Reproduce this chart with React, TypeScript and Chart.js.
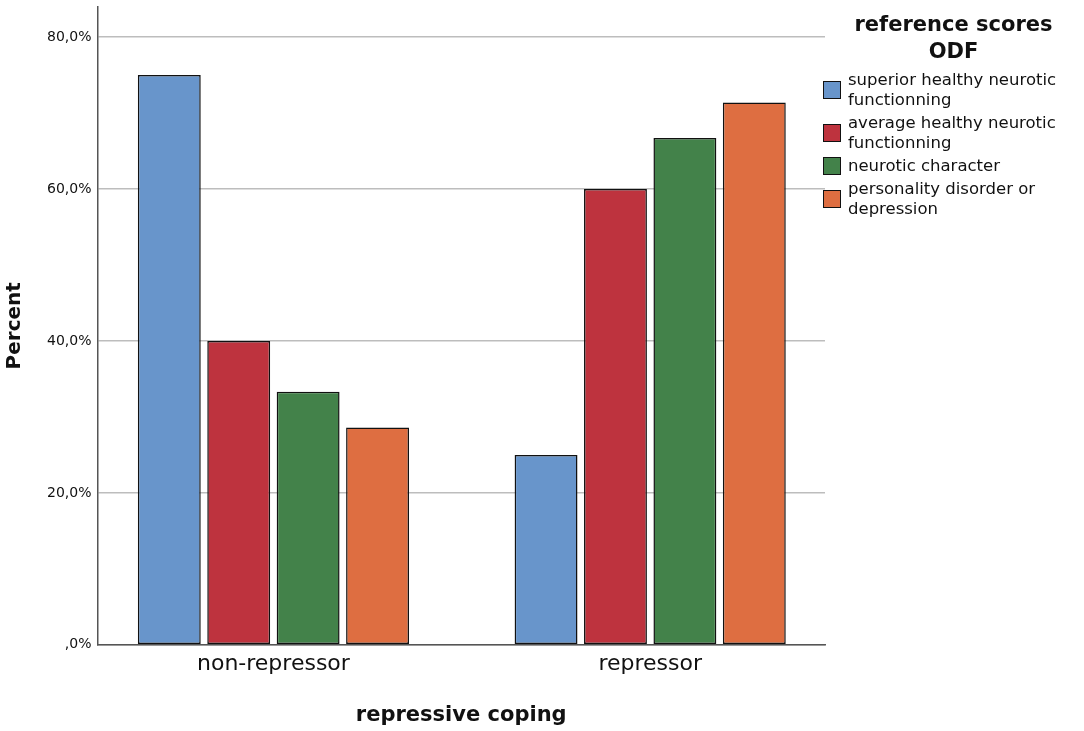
import { useEffect, useRef } from "react";
import { Chart, registerables } from "chart.js";

Chart.register(...registerables);

const categories = ["non-repressor", "repressor"];
const seriesNames = [
  "superior healthy neurotic functionning",
  "average healthy neurotic functionning",
  "neurotic character",
  "personality disorder or depression",
];
const legendLines = [
  ["superior healthy neurotic", "functionning"],
  ["average healthy neurotic", "functionning"],
  ["neurotic character"],
  ["personality disorder or", "depression"],
];
const superiorValues = [75.0, 25.0];
const averageValues = [40.0, 60.0];
const neuroticValues = [33.3, 66.7];
const disorderValues = [28.6, 71.4];
const seriesColors = ["#6895CB", "#BE333E", "#43824A", "#DE6E41"];
const yTicks = [0, 20, 40, 60, 80];

const fmtPct = (v: number) => {
  const s = v.toFixed(1).replace(".", ",");
  return (s.startsWith("0,") ? s.slice(1) : s) + "%";
};

export default function App() {
  const canvasRef = useRef<HTMLCanvasElement>(null);
  const chartRef = useRef<Chart | null>(null);

  useEffect(() => {
    if (!canvasRef.current) return;
    if (chartRef.current) chartRef.current.destroy();
    const ctx = canvasRef.current.getContext("2d");
    if (!ctx) return;

    const values = [superiorValues, averageValues, neuroticValues, disorderValues];

    chartRef.current = new Chart(ctx, {
      type: "bar",
      data: {
        datasets: values.map((data, i) => ({
          label: seriesNames[i],
          // category index on a linear axis so the groups sit like the SPSS layout
          data: data.map((y, k) => ({ x: k, y })),
          backgroundColor: seriesColors[i],
          borderColor: "#111111",
          borderWidth: 1.5,
          borderSkipped: false,
          categoryPercentage: 0.737,
          barPercentage: 0.906,
        })),
      },
      options: {
        animation: false,
        responsive: false,
        maintainAspectRatio: false,
        layout: { padding: { top: -2, right: 259, left: 3, bottom: 3 } },
        plugins: {
          legend: { display: false },
          tooltip: { enabled: false },
        },
        scales: {
          x: {
            type: "linear",
            offset: false,
            min: -0.467,
            max: 1.464,
            afterBuildTicks: (axis) => {
              axis.ticks = categories.map((_, k) => ({ value: k }));
            },
            grid: { display: false },
            border: { color: "#555555", width: 1.5 },
            ticks: {
              color: "#111111",
              font: { family: "DejaVu Sans", size: 22, lineHeight: 1 },
              padding: 0,
              callback: (v) => categories[Number(v)] ?? "",
            },
            title: {
              display: true,
              text: "repressive coping",
              color: "#111111",
              font: { family: "DejaVu Sans", size: 21, weight: "bold" },
              padding: { top: 28, bottom: 0 },
            },
          },
          y: {
            min: 0,
            max: 84,
            afterBuildTicks: (axis) => {
              axis.ticks = yTicks.map((v) => ({ value: v }));
            },
            grid: {
              color: "#BDBDBD",
              lineWidth: 1.5,
              drawTicks: true,
              tickLength: 0,
            },
            border: { color: "#555555", width: 1.5 },
            ticks: {
              color: "#111111",
              font: { family: "DejaVu Sans", size: 14, lineHeight: 0.1 },
              padding: 6,
              callback: (v) => fmtPct(Number(v)),
            },
            title: {
              display: true,
              text: "Percent",
              color: "#111111",
              font: { family: "DejaVu Sans", size: 20, weight: "bold" },
              padding: { top: 0, bottom: 14 },
            },
          },
        },
      },
    });

    return () => {
      if (chartRef.current) {
        chartRef.current.destroy();
        chartRef.current = null;
      }
    };
  }, []);

  return (
    <div style={{ position: "fixed", left: 0, top: 0, width: 1084, height: 731, background: "#ffffff" }}>
      <canvas ref={canvasRef} width={1084} height={731} style={{ display: "block", width: 1084, height: 731 }}></canvas>
      <div
        style={{
          position: "absolute",
          left: 823,
          top: 11,
          width: 261,
          fontFamily: "DejaVu Sans",
          color: "#111111",
        }}
      >
        <div style={{ textAlign: "center", fontWeight: "bold", fontSize: 21, lineHeight: "27px", marginBottom: 5 }}>
          reference scores
          <br />
          ODF
        </div>
        {legendLines.map((lines, i) => (
          <div key={i} style={{ display: "flex", alignItems: "center", marginBottom: 3 }}>
            <div
              style={{
                width: 16,
                height: 16,
                marginRight: 7,
                background: seriesColors[i],
                border: "1.5px solid #111111",
                flexShrink: 0,
              }}
            ></div>
            <div style={{ fontSize: 16.5, lineHeight: "20px" }}>
              {lines.map((l, j) => (
                <div key={j}>{l}</div>
              ))}
            </div>
          </div>
        ))}
      </div>
    </div>
  );
}
